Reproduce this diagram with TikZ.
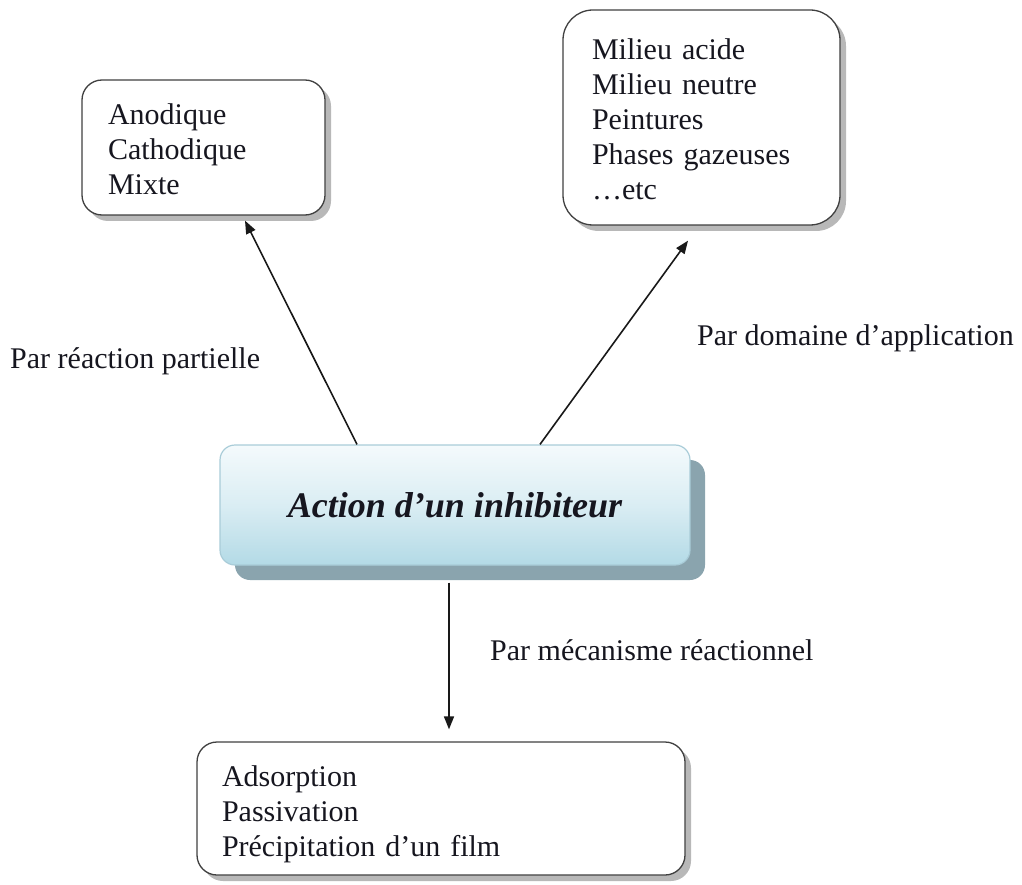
\documentclass[tikz,border=0pt]{standalone}
\usepackage{fontspec}
\setmainfont{Liberation Serif}
\usetikzlibrary{shadows,arrows.meta,calc}
\definecolor{boxtop}{HTML}{F4FAFC}
\definecolor{boxblue}{HTML}{B3DAE6}
\definecolor{boxedge}{HTML}{A9CCD8}
\definecolor{shadowblue}{HTML}{8AA4AE}
\definecolor{ink}{HTML}{16161F}
\begin{document}
\begin{tikzpicture}[x=1pt,y=-1pt,
  txt/.style={font=\fontsize{30}{35}\selectfont, text=ink},
  listbox/.style={draw=black!75, line width=1.3pt, fill=white, align=left,
    inner ysep=0pt, txt,
    drop shadow={shadow xshift=6pt, shadow yshift=-6pt, fill=black!35, opacity=0.8}},
  lab/.style={txt, anchor=base west, inner sep=0pt},
  arr/.style={-{Triangle[length=13pt,width=10pt]}, line width=1.6pt, draw=black!90}]
\useasboundingbox (0,0) rectangle (1022,885);

% list boxes
\node[listbox, rounded corners=20pt, minimum width=243pt, minimum height=135pt,
      inner xsep=26pt, text width=191pt] (tl) at (203.5,147.5)
  {\rule{0pt}{25pt}Anodique\\Cathodique\\Mixte};
\node[listbox, rounded corners=30pt, minimum width=277pt, minimum height=215pt,
      inner xsep=29pt, text width=219pt] (tr) at (701.5,117.5)
  {\rule{0pt}{24pt}Milieu acide\\Milieu neutre\\Peintures\\Phases gazeuses\\\dots etc};
\node[listbox, rounded corners=20pt, minimum width=488pt, minimum height=133pt,
      inner xsep=25pt, text width=438pt] (bt) at (441,808.5)
  {\rule{0pt}{32pt}Adsorption\\Passivation\\Précipitation d’un film};

% central box
\node[rounded corners=15pt, minimum width=470pt, minimum height=120pt,
      top color=boxtop, bottom color=boxblue, middle color=boxtop!60!boxblue,
      draw=boxedge, line width=1.2pt,
      drop shadow={shadow xshift=15pt, shadow yshift=-15pt, fill=shadowblue, opacity=1},
      font=\fontsize{36}{40}\selectfont\bfseries\itshape, text=ink] (c) at (455,505)
  {Action d’un inhibiteur};

% connectors
\draw[arr] ([xshift=-98pt]c.north) -- ([xshift=41.5pt,yshift=-5pt]tl.south);
\draw[arr] ([xshift=85pt]c.north) -- ([xshift=-13.5pt,yshift=-15pt]tr.south);
\draw[arr] ([xshift=-6pt,yshift=-17pt]c.south) -- ([xshift=8pt,yshift=12pt]bt.north);

% labels
\node[lab] (l1) at (10,368) {Par réaction partielle};
\node[lab] (l2) at (697,345) {Par domaine d’application};
\node[lab] (l3) at (490,660) {Par mécanisme réactionnel};
\end{tikzpicture}
\end{document}
